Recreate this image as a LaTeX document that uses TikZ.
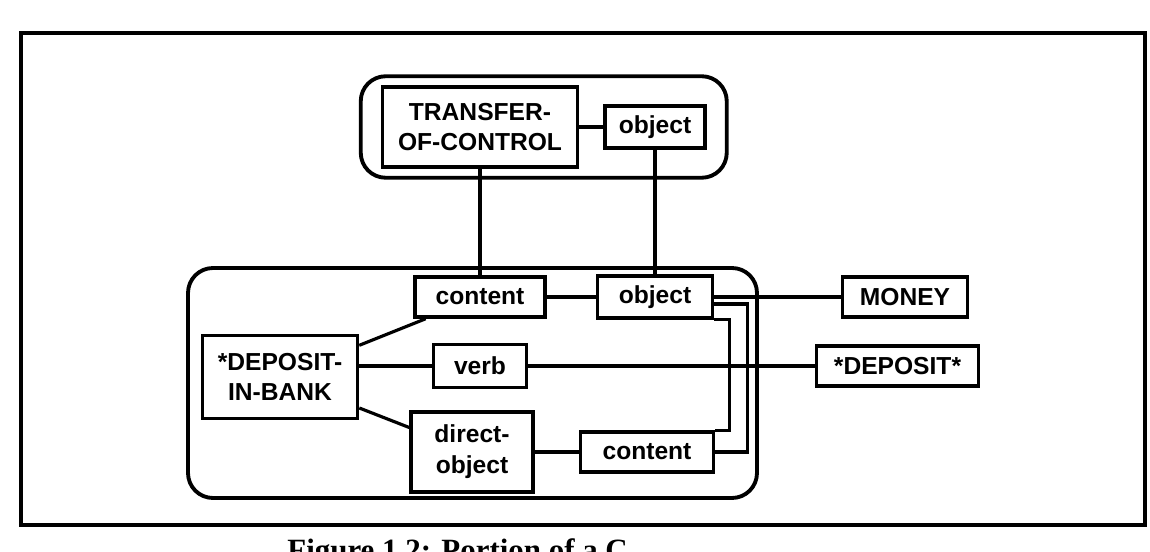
\documentclass[tikz,border=0pt]{standalone}
\usepackage{fontspec}
\setmainfont{Liberation Serif}
\setsansfont{Liberation Sans}
\usepackage{tikz}
\usetikzlibrary{positioning, fit}
\tikzstyle{concept} = [rectangle, draw=black, line width=2pt, align=center, inner sep=0pt, font=\sffamily\bfseries\fontsize{14}{17.5}\selectfont]
\tikzstyle{group} = [rectangle, rounded corners=0.5cm, draw=black, line width=2.2pt, inner sep=0pt]
\tikzstyle{link} = [line width=1.8pt]

\begin{document}
\begin{tikzpicture}[node distance=3.5cm]
    \useasboundingbox (0,0) rectangle (23,-11.04);
    \clip (0,0) rectangle (23,-11.04);
    \draw [line width=2.2pt] (0.42,-0.66) rectangle (22.9,-10.5);

    \node (tc) [concept, minimum width=3.9cm, minimum height=1.6cm] at (9.6,-2.54) {TRANSFER-\\OF-CONTROL};
    \node (tobj) [concept, minimum width=2cm, minimum height=0.84cm, right of=tc] {object};
    \node (tgroup) [group, fit=(tc)(tobj), inner xsep=0.4cm, inner ysep=0.18cm] {};

    \node (c1) [concept, minimum width=2.6cm, minimum height=0.8cm, below of=tc, yshift=0.1cm] {content};
    \node (lobj) [concept, minimum width=2.3cm, minimum height=0.84cm, right of=c1] {object};
    \node (verb) [concept, minimum width=1.86cm, minimum height=0.86cm, below of=c1, yshift=2.12cm] {verb};
    \node (dobj) [concept, minimum width=2.44cm, minimum height=1.6cm, below of=verb, yshift=1.78cm, xshift=-0.16cm] {direct-\\object};
    \node (c2) [concept, minimum width=2.66cm, minimum height=0.8cm, right of=dobj] {content};
    \node (dib) [concept, minimum width=3.1cm, minimum height=1.66cm, left of=verb, xshift=-0.5cm, yshift=-0.22cm] {*DEPOSIT-\\IN-BANK};
    \node (money) [concept, minimum width=2.5cm, minimum height=0.8cm, right of=lobj, xshift=1.5cm] {MONEY};
    \node (dep) [concept, minimum width=3.24cm, minimum height=0.8cm, right of=verb, xshift=4.85cm] {*DEPOSIT*};
    \node (bgroup) [group, fit={(3.76,-5.36) (15.14,-9.96)}] {};

    \draw [link] (tc) -- (tobj);
    \draw [link] (tc) -- (c1);
    \draw [link] (tobj) -- (lobj);
    \draw [link] (c1) -- (lobj);
    \draw [link] (lobj) -- (money);
    \draw [link] (dib) -- (c1);
    \draw [link] (dib.east |- verb) -- (verb);
    \draw [link] (verb) -- (dep);
    \draw [link] (dib) -- (dobj);
    \draw [link] (dobj) -- (c2);
    \draw [link] (lobj.south east) -- ++(0.3cm,0) |- (c2.north east);
    \draw [link] ([yshift=-0.14cm]lobj.east) -- ++(0.66cm,0) |- (c2.east);

    \node (caption) [anchor=north west, inner sep=0pt, font=\bfseries\fontsize{17.6}{20}\selectfont] at (5.74,-10.76) {Figure 1.2: Portion of a C};
\end{tikzpicture}
\end{document}
